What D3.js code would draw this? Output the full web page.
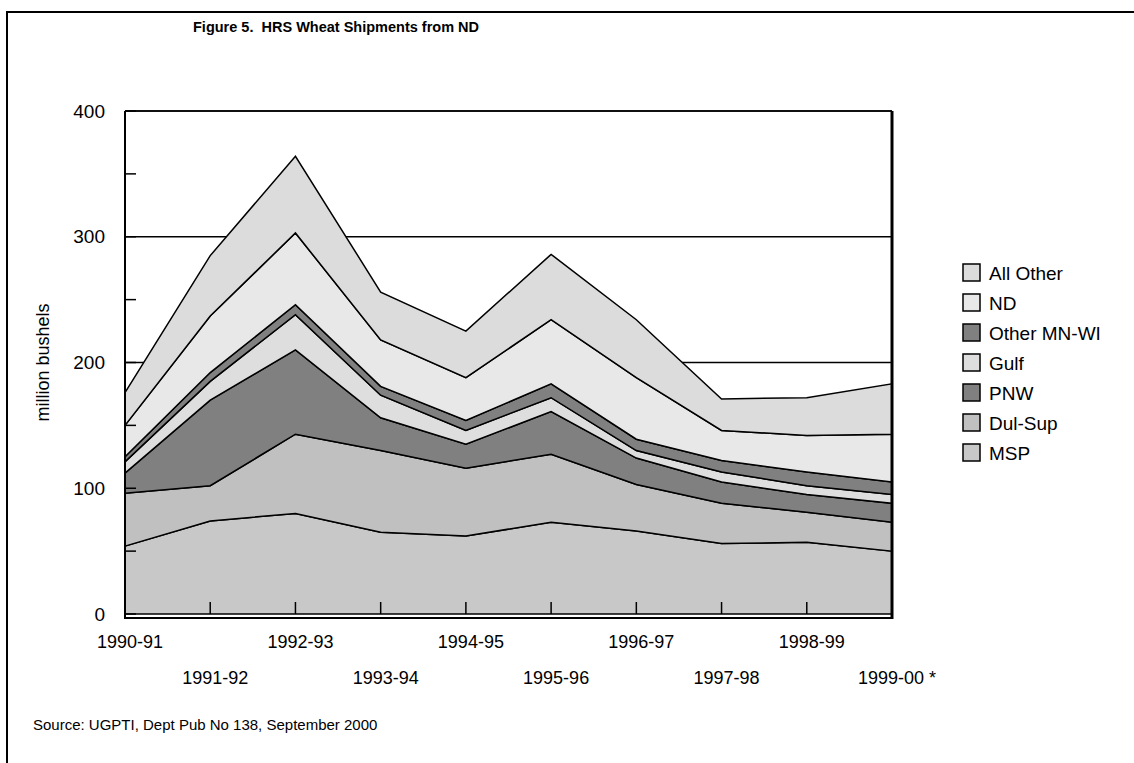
<!DOCTYPE html>
<html>
<head>
<meta charset="utf-8">
<script src="https://cdn.jsdelivr.net/npm/d3@7"></script>
<style>
  body { margin: 0; background: #fff; overflow: hidden; }
  text { font-family: "Liberation Sans", Arial, sans-serif; fill: #000; }
</style>
</head>
<body>
<div id="chart"></div>
<script>
// Datasets (million bushels per season)
var seasons = ["1990-91", "1991-92", "1992-93", "1993-94", "1994-95",
               "1995-96", "1996-97", "1997-98", "1998-99", "1999-00 *"];
var msp       = [54, 74, 80, 65, 62, 73, 66, 56, 57, 50];
var dulSup    = [42, 28, 63, 65, 54, 54, 37, 32, 24, 23];
var pnw       = [16, 68, 67, 26, 19, 34, 21, 17, 14, 15];
var gulf      = [9, 15, 28, 18, 11, 11, 6, 8, 7, 7];
var otherMnWi = [4, 7, 8, 7, 8, 11, 9, 9, 11, 10];
var nd        = [25, 45, 57, 37, 34, 51, 49, 24, 29, 38];
var allOther  = [26, 48, 61, 38, 37, 52, 46, 25, 30, 40];
var yTicks = [0, 100, 200, 300, 400];

// bottom to top
var seriesNames = ["MSP", "Dul-Sup", "PNW", "Gulf", "Other MN-WI", "ND", "All Other"];
var seriesValues = [msp, dulSup, pnw, gulf, otherMnWi, nd, allOther];
var colors = ["#c8c8c8", "#c0c0c0", "#808080", "#dedede", "#808080", "#e8e8e8", "#dcdcdc"];

var table = seasons.map(function (s, i) {
    var row = {season: s};
    seriesNames.forEach(function (k, j) { row[k] = seriesValues[j][i]; });
    return row;
});

var width = 1134, height = 763;
var plot = {left: 125, right: 892, top: 111, bottom: 614};

var svg = d3.select("#chart").append("svg")
    .attr("width", width)
    .attr("height", height);

// chart area frame (runs off the right and bottom of the picture)
svg.append("rect")
    .attr("x", 7).attr("y", 12)
    .attr("width", 1200).attr("height", 800)
    .attr("fill", "none").attr("stroke", "#000").attr("stroke-width", 2);

var x = d3.scalePoint().domain(seasons).range([plot.left, plot.right]);
var y = d3.scaleLinear().domain([0, 400]).range([plot.bottom, plot.top]);

// gridlines behind the areas
svg.append("g").selectAll("line")
    .data(yTicks.slice(1))
    .enter().append("line")
    .attr("x1", plot.left).attr("x2", plot.right)
    .attr("y1", function (d) { return y(d); })
    .attr("y2", function (d) { return y(d); })
    .attr("stroke", "#000").attr("stroke-width", 1.5);

var stack = d3.stack().keys(seriesNames);
var layers = stack(table);

var area = d3.area()
    .x(function (d) { return x(d.data.season); })
    .y0(function (d) { return y(d[0]); })
    .y1(function (d) { return y(d[1]); });

svg.append("g").selectAll("path")
    .data(layers)
    .enter().append("path")
    .attr("d", area)
    .attr("fill", function (d, i) { return colors[i]; })
    .attr("stroke", "#000")
    .attr("stroke-width", 1.5)
    .attr("stroke-linejoin", "miter");

// ticks drawn over the areas
var yMinor = d3.range(0, 401, 50);
svg.append("g").selectAll("line")
    .data(yMinor)
    .enter().append("line")
    .attr("x1", plot.left).attr("x2", plot.left + 11)
    .attr("y1", function (d) { return y(d); })
    .attr("y2", function (d) { return y(d); })
    .attr("stroke", "#000").attr("stroke-width", 1.5);

svg.append("g").selectAll("line")
    .data(seasons.slice(1, -1))
    .enter().append("line")
    .attr("x1", function (d) { return x(d); })
    .attr("x2", function (d) { return x(d); })
    .attr("y1", plot.bottom).attr("y2", plot.bottom - 12)
    .attr("stroke", "#000").attr("stroke-width", 1.5);

// plot box
var box = svg.append("g").attr("stroke", "#000");
box.append("line").attr("x1", plot.left).attr("x2", plot.right)
    .attr("y1", plot.top).attr("y2", plot.top).attr("stroke-width", 1.5);
box.append("line").attr("x1", plot.right).attr("x2", plot.right)
    .attr("y1", plot.top).attr("y2", plot.bottom + 5).attr("stroke-width", 3);
box.append("line").attr("x1", plot.left).attr("x2", plot.left)
    .attr("y1", plot.top).attr("y2", plot.bottom + 5).attr("stroke-width", 2);
box.append("line").attr("x1", plot.left - 1).attr("x2", plot.right + 1)
    .attr("y1", plot.bottom + 4).attr("y2", plot.bottom + 4).attr("stroke-width", 2);

// y axis labels
svg.append("g").selectAll("text")
    .data(yTicks)
    .enter().append("text")
    .attr("x", 105)
    .attr("y", function (d) { return y(d); })
    .attr("dy", "0.35em")
    .attr("text-anchor", "end")
    .style("font-size", "19px")
    .text(function (d) { return d; });

svg.append("text")
    .attr("transform", "translate(43," + ((plot.top + plot.bottom) / 2) + ") rotate(-90)")
    .attr("text-anchor", "middle")
    .attr("dy", "0.35em")
    .style("font-size", "18px")
    .text("million bushels");

// x axis labels, staggered on two rows
svg.append("g").selectAll("text")
    .data(seasons)
    .enter().append("text")
    .attr("x", function (d) { return x(d) + 5; })
    .attr("y", function (d, i) { return i % 2 === 0 ? 642 : 678; })
    .attr("dy", "0.35em")
    .attr("text-anchor", "middle")
    .style("font-size", "18px")
    .text(function (d) { return d; });

// legend (top entry first)
var legendOrder = seriesNames.slice().reverse();
var legend = svg.append("g").selectAll("g")
    .data(legendOrder)
    .enter().append("g")
    .attr("transform", function (d, i) { return "translate(963," + (273 + i * 30) + ")"; });
legend.append("rect")
    .attr("x", 0).attr("y", -9)
    .attr("width", 17).attr("height", 17)
    .attr("fill", function (d) { return colors[seriesNames.indexOf(d)]; })
    .attr("stroke", "#000").attr("stroke-width", 1.5);
legend.append("text")
    .attr("x", 26).attr("y", 0).attr("dy", "0.35em")
    .style("font-size", "19px")
    .text(function (d) { return d; });

// title and source
svg.append("text")
    .attr("x", 193).attr("y", 27).attr("dy", "0.35em")
    .style("font-size", "14.5px").style("font-weight", "bold")
    .style("white-space", "pre")
    .text("Figure 5.  HRS Wheat Shipments from ND");

svg.append("text")
    .attr("x", 33).attr("y", 725).attr("dy", "0.35em")
    .style("font-size", "15px")
    .text("Source: UGPTI, Dept Pub No 138, September 2000");
</script>
</body>
</html>
